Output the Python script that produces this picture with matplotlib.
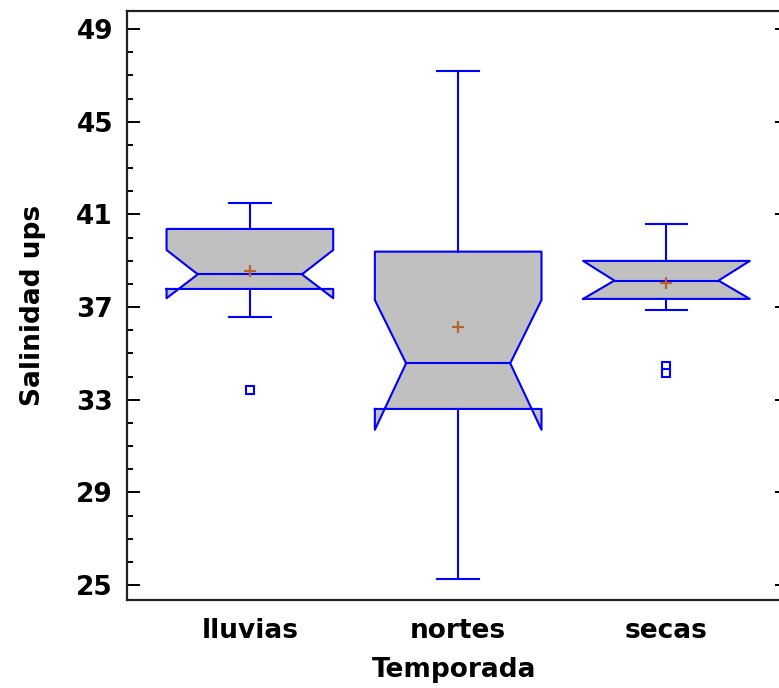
import matplotlib
matplotlib.use("Agg")
import matplotlib.pyplot as plt
from matplotlib.ticker import MultipleLocator

# salinity summary per season (box-and-whisker with notches)
temporadas = ["lluvias", "nortes", "secas"]
bigote_inf = [36.55, 25.25, 36.85]
q1 = [37.78, 32.60, 37.35]
muesca_inf = [37.38, 31.70, 37.35]
mediana = [38.41, 34.57, 38.14]
muesca_sup = [39.46, 37.30, 38.99]
q3 = [40.37, 39.39, 38.99]
bigote_sup = [41.48, 47.20, 40.58]
media = [38.57, 36.13, 38.05]
atipicos = [[33.42], [], [34.45, 34.14]]

azul = "#0000FF"
gris = "#C0C0C0"

fig = plt.figure(figsize=(7.79, 6.88), dpi=100)
ax = fig.add_axes([127 / 779, 1 - 600 / 688, (781 - 127) / 779, (600 - 11) / 688])

half = 0.40   # half box width
pinch = 0.25  # half width at the median notch
cap = 0.10    # half width of whisker caps

for i, nombre in enumerate(temporadas):
    p = i + 1
    xs = [p - half, p + half, p + half, p + pinch, p + half, p + half,
          p - half, p - half, p - pinch, p - half, p - half]
    ys = [q1[i], q1[i], muesca_inf[i], mediana[i], muesca_sup[i], q3[i],
          q3[i], muesca_sup[i], mediana[i], muesca_inf[i], q1[i]]
    ax.fill(xs, ys, color=gris, zorder=2)
    ax.plot(xs, ys, color=azul, lw=1.5, zorder=3)
    ax.plot([p - pinch, p + pinch], [mediana[i], mediana[i]], color=azul, lw=1.5, zorder=3)
    # whiskers
    ax.plot([p, p], [q3[i], bigote_sup[i]], color=azul, lw=1.5, zorder=3)
    ax.plot([p, p], [q1[i], bigote_inf[i]], color=azul, lw=1.5, zorder=3)
    ax.plot([p - cap, p + cap], [bigote_sup[i], bigote_sup[i]], color=azul, lw=1.5, zorder=3)
    ax.plot([p - cap, p + cap], [bigote_inf[i], bigote_inf[i]], color=azul, lw=1.5, zorder=3)
    # mean and outliers
    ax.plot(p, media[i], marker="+", ms=8, mew=1.6, color="#B8652A", zorder=4)
    if atipicos[i]:
        ax.plot([p] * len(atipicos[i]), atipicos[i], ls="none", marker="s", ms=5.5,
                mfc="white", mec=azul, mew=1.5, zorder=4)

ax.set_xlim(0.41, 3.55)
ax.set_ylim(24.353, 49.777)
ax.set_xticks([1, 2, 3])
ax.set_xticklabels(temporadas)
ax.set_yticks([25, 29, 33, 37, 41, 45, 49])
ax.yaxis.set_minor_locator(MultipleLocator(1))

fuente = dict(family="DejaVu Sans", weight="bold", size=19)
for lab in ax.get_xticklabels() + ax.get_yticklabels():
    lab.set_fontfamily("DejaVu Sans")
    lab.set_fontweight("bold")
    lab.set_fontsize(19)

ax.tick_params(axis="x", length=0, pad=13)
ax.tick_params(axis="y", which="major", direction="in", length=9, width=1.4, pad=10)
ax.tick_params(axis="y", which="minor", direction="in", length=4.5, width=1.4)

sec = ax.secondary_yaxis("right")
sec.set_yticks([25, 29, 33, 37, 41, 45, 49])
sec.tick_params(direction="in", length=4, width=1.4, labelright=False)
sec.spines["right"].set_linewidth(1.6)

for s in ax.spines.values():
    s.set_linewidth(1.6)
    s.set_color("#222222")

ax.set_ylabel("Salinidad ups", labelpad=22, **fuente)
ax.set_xlabel("Temporada", labelpad=9, **fuente)

fig.savefig("out.png", dpi=100)
